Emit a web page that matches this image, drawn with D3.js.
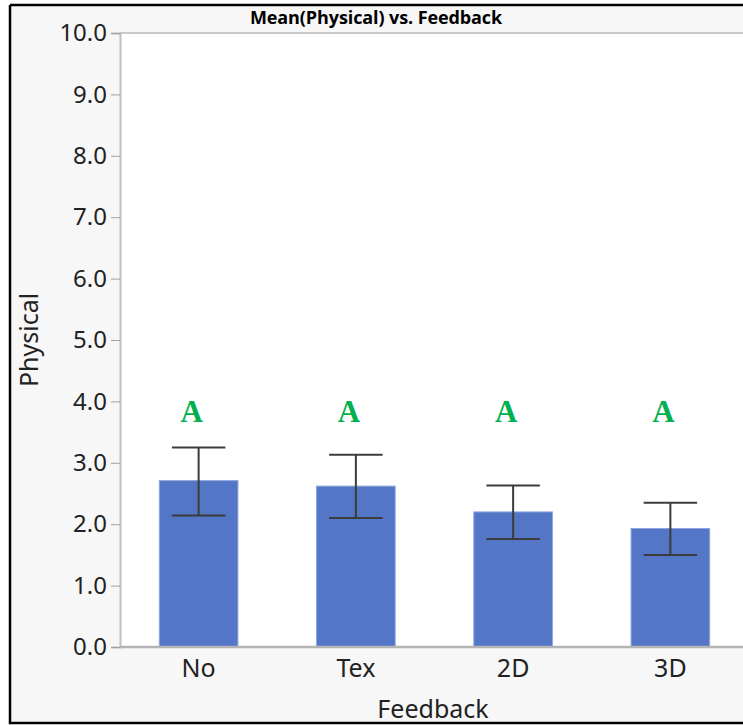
<!DOCTYPE html>
<html>
<head>
<meta charset="utf-8">
<script src="https://cdn.jsdelivr.net/npm/d3@7"></script>
<style>
  html, body { margin: 0; padding: 0; background: #fff; }
  svg { display: block; }
</style>
</head>
<body>
<svg id="chart" width="743" height="725"></svg>
<script>
const categories = ["No", "Tex", "2D", "3D"]
const means = [2.71, 2.62, 2.20, 1.93]
const upper = [3.25, 3.13, 2.63, 2.35]
const lower = [2.14, 2.10, 1.76, 1.50]
const letters = ["A", "A", "A", "A"]
const yTicks = [0, 1, 2, 3, 4, 5, 6, 7, 8, 9, 10]

const W = 743, H = 725
const plot = { left: 120, top: 33, right: 749, bottom: 647 }

const svg = d3.select("#chart")

// panel background + frame
svg.append("rect")
    .attr("x", 10).attr("y", 5)
    .attr("width", W).attr("height", 718)
    .attr("fill", "#f7f7f7")
svg.append("rect")
    .attr("x", plot.left).attr("y", plot.top)
    .attr("width", W - plot.left).attr("height", plot.bottom - plot.top)
    .attr("fill", "#fff")
svg.append("path")
    .attr("d", `M10,5H${W}M10,5V723H${W}`)
    .attr("fill", "none")
    .attr("stroke", "#000")
    .attr("stroke-width", 2.5)

const x = d3.scaleBand()
    .domain(categories)
    .range([plot.left, plot.right])
    .paddingInner(0.5)
    .paddingOuter(0.25)

const y = d3.scaleLinear()
    .domain([0, 10])
    .range([plot.bottom, plot.top])

// title
svg.append("text")
    .attr("x", 376).attr("y", 24)
    .attr("text-anchor", "middle")
    .style("font-family", "'Open Sans', sans-serif")
    .style("font-weight", "bold")
    .style("font-size", "18px")
    .style("letter-spacing", "-0.1px")
    .text("Mean(Physical) vs. Feedback")

// top frame line
svg.append("line")
    .attr("x1", plot.left).attr("x2", W)
    .attr("y1", plot.top).attr("y2", plot.top)
    .attr("stroke", "#c8c8c8").attr("stroke-width", 2)

// y axis
const yAxis = d3.axisLeft(y)
    .tickValues(yTicks)
    .tickFormat(d3.format(".1f"))
    .tickSize(9)
    .tickPadding(4)
const gy = svg.append("g")
    .attr("class", "y axis")
    .attr("transform", `translate(${plot.left},0)`)
    .call(yAxis)
gy.select(".domain").attr("stroke", "#c0c0c0").attr("stroke-width", 2)
gy.selectAll(".tick line").attr("stroke", "#a0a0a0")
gy.selectAll(".tick text")
    .attr("fill", "#222")
    .style("font-family", "'Noto Sans', sans-serif")
    .style("font-size", "24px")

// bars
svg.selectAll(".bar")
    .data(categories)
    .enter()
    .append("rect")
    .attr("class", "bar")
    .attr("x", d => x(d))
    .attr("y", (d, i) => y(means[i]))
    .attr("width", x.bandwidth())
    .attr("height", (d, i) => y(0) - y(means[i]))
    .attr("fill", "#5377c6")
    .attr("stroke", "#8ea5dc")
    .attr("stroke-width", 1)

// error bars
const cap = x.bandwidth() * 0.34
const err = svg.append("g").attr("class", "errors")
    .attr("stroke", "#3c3c3c")
    .attr("stroke-width", 2)
    .attr("fill", "none")
categories.forEach((c, i) => {
    const cx = x(c) + x.bandwidth() / 2
    err.append("path")
        .attr("d", `M${cx},${y(upper[i])}V${y(lower[i])}` +
            `M${cx - cap},${y(upper[i])}H${cx + cap}` +
            `M${cx - cap},${y(lower[i])}H${cx + cap}`)
})

// x axis
const xAxis = d3.axisBottom(x).tickSize(0).tickPadding(12)
const gx = svg.append("g")
    .attr("class", "x axis")
    .attr("transform", `translate(0,${plot.bottom})`)
    .call(xAxis)
gx.select(".domain").attr("stroke", "#b4b4b4").attr("stroke-width", 2.5)
    .attr("d", `M${plot.left},0H${W}`)
gx.selectAll(".tick text")
    .attr("fill", "#222")
    .style("font-family", "'Noto Sans', sans-serif")
    .style("font-size", "25px")

// significance letters
svg.selectAll(".letter")
    .data(letters)
    .enter()
    .append("text")
    .attr("class", "letter")
    .attr("x", (d, i) => x(categories[i]) + x.bandwidth() / 2 - 7)
    .attr("y", y(3.66))
    .attr("text-anchor", "middle")
    .attr("fill", "#00b050")
    .style("font-family", "'Liberation Serif', serif")
    .style("font-weight", "bold")
    .style("font-size", "31px")
    .text(d => d)

// axis titles
svg.append("text")
    .attr("x", 433).attr("y", 718)
    .attr("text-anchor", "middle")
    .attr("fill", "#222")
    .style("font-family", "'Noto Sans', sans-serif")
    .style("font-size", "25px")
    .text("Feedback")

svg.append("text")
    .attr("transform", "translate(38,340) rotate(-90)")
    .attr("text-anchor", "middle")
    .attr("fill", "#222")
    .style("font-family", "'Noto Sans', sans-serif")
    .style("font-size", "25px")
    .text("Physical")
</script>
</body>
</html>
